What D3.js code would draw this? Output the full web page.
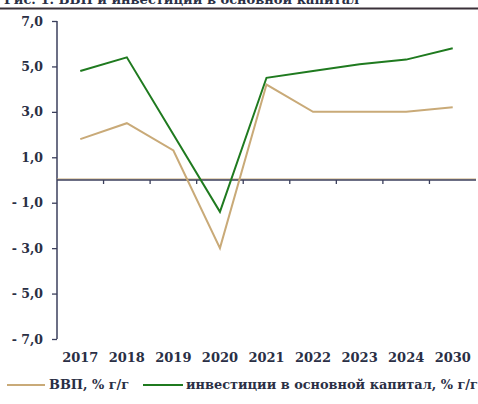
<!DOCTYPE html>
<html>
<head>
<meta charset="utf-8">
<script src="https://cdn.jsdelivr.net/npm/d3@7"></script>
<style>
  body { margin: 0; background: #fff; }
  svg { display: block; }
  text { font-family: "DejaVu Serif", serif; fill: #2a2f45; }
</style>
</head>
<body>
<div id="chart"></div>
<script>
// data
let years = ["2017", "2018", "2019", "2020", "2021", "2022", "2023", "2024", "2030"];
let gdp = [1.8, 2.5, 1.3, -3.0, 4.2, 3.0, 3.0, 3.0, 3.2];
let invest = [4.8, 5.4, 2.0, -1.4, 4.5, 4.8, 5.1, 5.3, 5.8];
let yTicks = [7, 5, 3, 1, -1, -3, -5, -7];
let seriesNames = ["ВВП, % г/г", "инвестиции в основной капитал, % г/г"];
let colors = ["#c9aa78", "#1f7a1f"];
let title = "Рис. 1. ВВП и инвестиции в основной капитал";

let w = 478, h = 404;
let svg = d3.select("#chart")
  .append("svg")
    .attr("width", w)
    .attr("height", h);

// title (cut off at the top, as in the source) and rule
svg.append("text")
  .attr("x", 4)
  .attr("y", 4)
  .attr("font-size", "13px")
  .attr("font-weight", "bold")
  .text(title);
svg.append("line")
  .attr("x1", 0).attr("x2", w)
  .attr("y1", 8.5).attr("y2", 8.5)
  .attr("stroke", "#3a3038")
  .attr("stroke-width", 2);

// scales
let xScale = d3.scaleBand()
  .domain(years)
  .range([57, 476]);
let yScale = d3.scaleLinear()
  .domain([-7, 7])
  .range([339, 21]);

// y axis
let yAxis = d3.axisLeft(yScale)
  .tickValues(yTicks)
  .tickSize(5)
  .tickFormat(d => (d < 0 ? "- " + d3.format(".1f")(-d) : d3.format(".1f")(d)).replace(".", ","));
let gy = svg.append("g")
  .attr("transform", "translate(57,0)")
  .call(yAxis);
gy.select(".domain").remove();
gy.append("line")
  .attr("x1", 0).attr("x2", 0)
  .attr("y1", yScale(7)).attr("y2", yScale(-7))
  .attr("stroke", "#3b3f5c").attr("stroke-width", 1.5);
gy.selectAll(".tick line").attr("stroke", "#3b3f5c").attr("stroke-width", 1.3);
gy.selectAll(".tick text")
  .attr("x", -14)
  .attr("font-size", "12.5px")
  .attr("font-weight", "bold")
  .attr("fill", "#3a4566")
  .style("font-family", "DejaVu Serif, serif");

// zero line with category ticks
let zero = yScale(0);
svg.append("line")
  .attr("x1", 57).attr("x2", 476)
  .attr("y1", zero - 1).attr("y2", zero - 1)
  .attr("stroke", colors[0]).attr("stroke-width", 1);
svg.append("line")
  .attr("x1", 57).attr("x2", 476)
  .attr("y1", zero).attr("y2", zero)
  .attr("stroke", "#3b3f5c").attr("stroke-width", 1.3);
svg.selectAll(".xtick")
  .data(years.slice(1))
  .join("line")
    .attr("class", "xtick")
    .attr("x1", d => xScale(d)).attr("x2", d => xScale(d))
    .attr("y1", zero).attr("y2", zero + 4)
    .attr("stroke", "#3b3f5c").attr("stroke-width", 1.3);

// year labels
svg.selectAll(".year")
  .data(years)
  .join("text")
    .attr("class", "year")
    .attr("x", d => xScale(d) + xScale.bandwidth() / 2)
    .attr("y", 362)
    .attr("text-anchor", "middle")
    .attr("font-size", "13px")
    .attr("font-weight", "bold")
    .attr("fill", "#2a2f45")
    .text(d => d);

// lines
let line = d3.line()
  .x((d, i) => xScale(years[i]) + xScale.bandwidth() / 2)
  .y(d => yScale(d));
[gdp, invest].forEach((s, i) => {
  svg.append("path")
    .datum(s)
    .attr("fill", "none")
    .attr("stroke", colors[i])
    .attr("stroke-width", 2)
    .attr("d", line);
});

// legend
let legend = [
  {x1: 7, x2: 45, tx: 49},
  {x1: 143, x2: 183, tx: 186}
];
legend.forEach((l, i) => {
  svg.append("line")
    .attr("x1", l.x1).attr("x2", l.x2)
    .attr("y1", 385).attr("y2", 385)
    .attr("stroke", colors[i]).attr("stroke-width", 2);
  svg.append("text")
    .attr("x", l.tx)
    .attr("y", 389)
    .attr("font-size", "12.9px")
    .attr("font-weight", "bold")
    .attr("fill", "#2a2f45")
    .text(seriesNames[i]);
});
</script>
</body>
</html>
